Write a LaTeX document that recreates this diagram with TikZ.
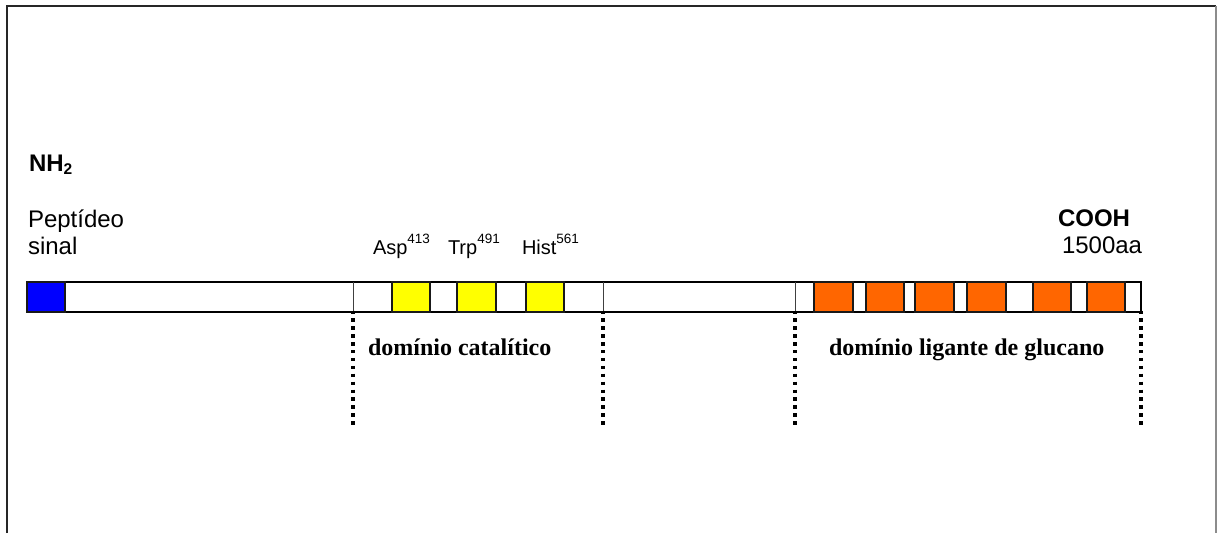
\documentclass[tikz,border=0pt]{standalone}
\usepackage{fontspec}
\setmainfont{Liberation Serif}
\newfontfamily\arialfont{Liberation Sans}
\definecolor{sigblue}{HTML}{0000FF}
\definecolor{catyellow}{HTML}{FFFF00}
\definecolor{glcorange}{HTML}{FF6600}
\definecolor{rimgray}{HTML}{8C8C8C}
\newcommand{\bigsans}{\arialfont\fontsize{24}{27}\selectfont}
\newcommand{\smallsans}{\arialfont\fontsize{20}{24}\selectfont}
\newcommand{\supnum}[1]{\raisebox{11pt}{\fontsize{13.5}{13.5}\selectfont #1}}
\tikzset{
  frameline/.style={line width=1.6pt, draw=black!85},
  barline/.style={line width=1.5pt, draw=black},
  divline/.style={line width=1pt, draw=black!75},
  boxline/.style={line width=1.4pt, draw=black!90},
  domainline/.style={line width=3.4pt, dash pattern=on 3.4pt off 4.5pt, draw=black},
  lbl/.style={inner sep=0pt, outer sep=0pt, anchor=base west},
  domlbl/.style={lbl, font=\bfseries\fontsize{24}{28}\selectfont},
}
\begin{document}
\begin{tikzpicture}[x=1pt,y=-1pt]
\useasboundingbox (0,0) rectangle (1217,533);
% outer frame (open at the bottom)
\draw[frameline] (7,533) -- (7,6) -- (1216,6);
\draw[line width=1.2pt, draw=rimgray] (1216,6) -- (1216,533);

% protein chain
\draw[barline, fill=white] (27,282) rectangle (1141,312);
\coordinate (d1t) at (353,282); \coordinate (d1b) at (353,312);
\coordinate (d2t) at (603,282); \coordinate (d2b) at (603,312);
\coordinate (d3t) at (795,282); \coordinate (d3b) at (795,312);
\coordinate (d4b) at (1141,312);
\draw[divline] (d1t) -- (d1b);
\draw[divline] (d2t) -- (d2b);
\draw[divline] (d3t) -- (d3b);

% signal peptide
\filldraw[boxline, fill=sigblue] (27,282) rectangle (65,312);
% catalytic residues
\foreach \a/\b in {392/430, 457/496, 526/564}
  \filldraw[boxline, fill=catyellow] (\a,282) rectangle (\b,312);
% glucan-binding repeats
\foreach \a/\b in {814/853, 866/904, 915/954, 967/1006, 1033/1071, 1087/1125}
  \filldraw[boxline, fill=glcorange] (\a,282) rectangle (\b,312);

% domain limits
\coordinate (e1) at (353,428);
\coordinate (e2) at (603,426);
\coordinate (e3) at (795,426);
\coordinate (e4) at (1141,428);
\draw[domainline] ([yshift=1.5pt]d1b) -- (e1);
\draw[domainline] ([yshift=1.5pt]d2b) -- (e2);
\draw[domainline] ([yshift=1.5pt]d3b) -- (e3);
\draw[domainline] ([yshift=1.5pt]d4b) -- (e4);

% labels
\node[lbl] (nh) at (29,171) {\bigsans\bfseries NH\raisebox{-3pt}{\fontsize{15.5}{15.5}\selectfont 2}};
\node[lbl] (pep) at (28,227) {\bigsans Peptídeo};
\node[lbl] (sin) at (28,254) {\bigsans sinal};
\node[lbl] (asp) at (373,254) {\smallsans Asp\supnum{413}};
\node[lbl] (trp) at (448,254) {\smallsans Trp\supnum{491}};
\node[lbl] (his) at (522,254) {\smallsans Hist\supnum{561}};
\node[lbl] (cooh) at (1058,226) {\bigsans\bfseries COOH};
\node[lbl] (len) at (1062,253) {\bigsans 1500aa};
\node[domlbl] (cat) at (368,355) {domínio catalítico};
\node[domlbl] (glc) at (829,355) {domínio ligante de glucano};
\end{tikzpicture}
\end{document}
